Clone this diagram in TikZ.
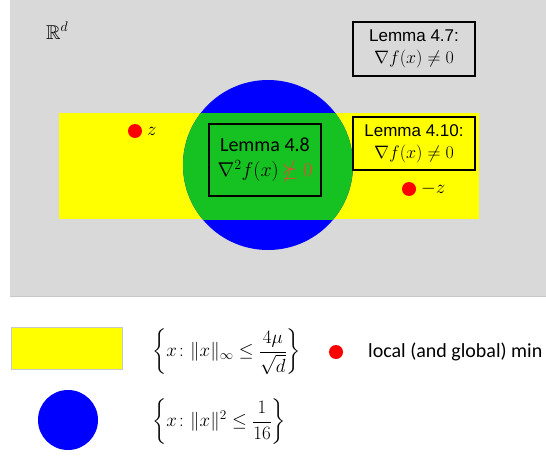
\documentclass[tikz,border=0pt]{standalone}
\usepackage{fix-cm}
\usepackage{amsmath,amssymb}
\usepackage{fontspec}
\newfontfamily\arialf{Liberation Sans}
\newfontfamily\calibf{Carlito}
\definecolor{bggray}{RGB}{217,217,217}
\definecolor{edgegray}{RGB}{200,200,200}
\definecolor{yel}{RGB}{255,255,0}
\definecolor{blu}{RGB}{0,0,255}
\definecolor{grn}{RGB}{22,193,34}
\definecolor{rd}{RGB}{255,0,0}
\definecolor{lrd}{RGB}{255,60,60}
\tikzset{
  lembox/.style={draw=black, line width=1.2pt, inner sep=0pt, align=center},
  dotnode/.style={circle, fill=rd, inner sep=0pt, minimum size=14pt},
  lbl/.style={inner sep=0pt, anchor=west}
}
\begin{document}
\begin{tikzpicture}[x=1pt,y=-1pt]
\useasboundingbox (0,0) rectangle (546,455);
% background
\fill[bggray] (10,0) rectangle (546,296);
\draw[edgegray, line width=0.8pt] (10,296) -- (546,296);
% yellow band, blue ball, green intersection
\fill[yel] (59,113) rectangle (479,219);
\fill[blu] (268,165) circle (85);
\begin{scope}
  \clip (59,113) rectangle (479,219);
  \fill[grn] (268,165) circle (85);
\end{scope}
% R^d
\node[lbl, anchor=base west, font=\fontsize{20}{24}\selectfont] (rd) at (46,39) {$\mathbb{R}^d$};
% lemma boxes
\node[lembox, minimum width=122pt, minimum height=54pt,
      font=\arialf\fontsize{17}{22}\selectfont] (l47) at (414,49)
      {Lemma 4.7:\\ \fontsize{18}{22}\selectfont$\nabla f(x)\neq 0$};
\node[lembox, minimum width=122pt, minimum height=53pt,
      font=\arialf\fontsize{17}{22}\selectfont] (l410) at (414,143.5)
      {Lemma 4.10:\\ \fontsize{18}{22}\selectfont$\nabla f(x)\neq 0$};
\node[lembox, minimum width=112pt, minimum height=72pt,
      font=\calibf\fontsize{20}{25}\selectfont] (l48) at (265,160)
      {Lemma 4.8\\ $\nabla^2 f(x)\,\textcolor{lrd}{\nsucceq 0}$};
% minima
\node[dotnode] (z) at (135,131) {};
\node[lbl, font=\fontsize{19}{22}\selectfont] (zl) at (147,131) {$z$};
\node[dotnode] (mz) at (409,189) {};
\node[lbl, font=\fontsize{19}{22}\selectfont] (mzl) at (421,189) {$-z$};
% legend
\fill[yel, draw=edgegray, line width=0.6pt] (11,327) rectangle (122,369);
\fill[blu] (68,420) circle (30);
\node[lbl, font=\fontsize{19}{23}\selectfont] (f1) at (152,352)
  {$\left\{x\colon \|x\|_\infty \le \dfrac{4\mu}{\sqrt{d}}\right\}$};
\node[lbl, font=\fontsize{19}{23}\selectfont] (f2) at (152,422)
  {$\left\{x\colon \|x\|^2 \le \dfrac{1}{16}\right\}$};
\node[dotnode] (ld) at (336,352) {};
\node[lbl, font=\calibf\fontsize{20}{24}\selectfont] (lt) at (368,352) {local (and global) min};
\end{tikzpicture}
\end{document}
